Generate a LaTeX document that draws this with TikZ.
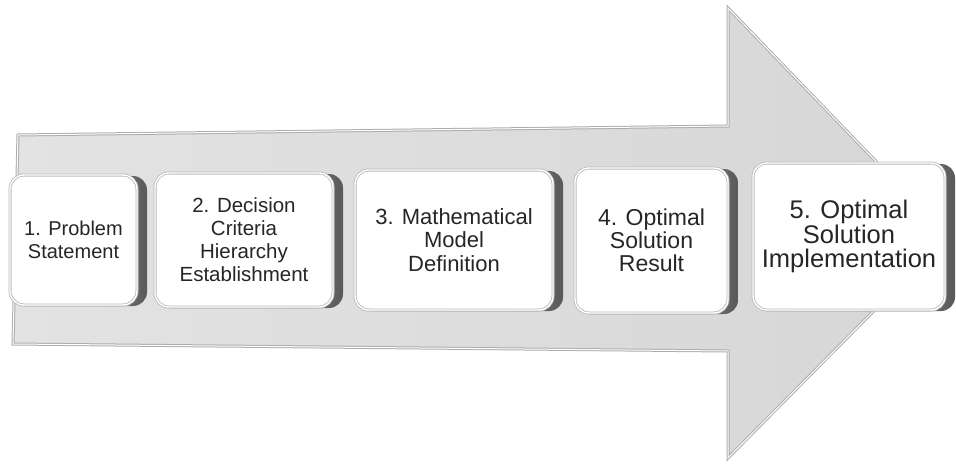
\documentclass[tikz,border=0pt]{standalone}
\usepackage{fontspec}
\setmainfont{Liberation Sans}
\usetikzlibrary{shadows}

\tikzset{
  etape/.style={rectangle, rounded corners=14pt, fill=white, draw=gray!55,
    double=white, double distance=1.4pt, line width=0.8pt,
    inner sep=0pt, outer sep=0pt, align=center, text=black!85,
    general shadow={shadow xshift=10pt, shadow yshift=-1pt,
      left color=gray!30, right color=black!65}},
}

\begin{document}
\begin{tikzpicture}[x=1pt,y=-1pt]
  \useasboundingbox (0,0) rectangle (956,466);

  % Fleche de fond
  \shade[left color=gray!22, right color=gray!32]
    (18,135) -- (728,126) -- (728,8) -- (948,236) -- (728,458) -- (728,351) -- (13,344) -- cycle;
  \draw[gray!65, line width=3pt, line join=miter]
    (18,135) -- (728,126) -- (728,8) -- (948,236) -- (728,458) -- (728,351) -- (13,344) -- cycle;
  \draw[white, line width=1pt]
    (18,135) -- (728,126) -- (728,8) -- (948,236) -- (728,458) -- (728,351) -- (13,344) -- cycle;

  % Etapes
  \node[etape, minimum width=127pt, minimum height=130pt, font=\fontsize{20}{23}\selectfont]
    (probleme) at (73.5,240) {1. Problem\\Statement};
  \node[etape, minimum width=178pt, minimum height=134pt, font=\fontsize{20.5}{23}\selectfont]
    (criteres) at (244,240) {2. Decision\\Criteria\\Hierarchy\\Establishment};
  \node[etape, minimum width=198pt, minimum height=140pt, font=\fontsize{22}{23.3}\selectfont]
    (modele) at (454,240) {3. Mathematical\\Model\\Definition};
  \node[etape, minimum width=153pt, minimum height=145pt, font=\fontsize{23}{23}\selectfont]
    (resultat) at (651.5,240.5) {4. Optimal\\Solution\\Result};
  \node[etape, minimum width=192pt, minimum height=147pt, font=\fontsize{25.5}{24.5}\selectfont]
    (mise) at (849,236.5) {5. Optimal\\Solution\\Implementation};
\end{tikzpicture}
\end{document}
